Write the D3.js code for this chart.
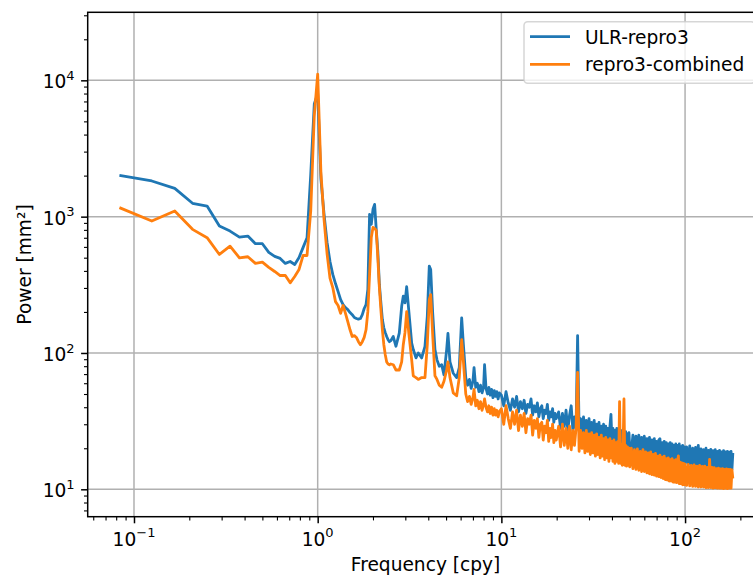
<!DOCTYPE html>
<html lang="en">
<head>
<meta charset="utf-8">
<title>Power spectra</title>
<script src="https://cdn.jsdelivr.net/npm/d3@7"></script>
<style>
 body { margin: 0; background: #fff; }
 svg { display: block; font-family: "DejaVu Sans", sans-serif; }
</style>
</head>
<body>
<div id="graph"></div>
<script>
// frequencies [cpy], low band (annual grid)
const freqLow = [0.0833, 0.125, 0.1667, 0.2083, 0.25, 0.2917, 0.3333, 0.375, 0.4167, 0.4583, 0.5, 0.5417,
  0.5833, 0.625, 0.6667, 0.7083, 0.75, 0.7917, 0.8333, 0.875, 0.9167, 0.9583, 1.0, 1.0417, 1.0833, 1.125,
  1.1667, 1.2083, 1.25, 1.2917, 1.3333, 1.375, 1.4167, 1.4583, 1.5, 1.5417, 1.5833, 1.625, 1.6667, 1.7083,
  1.75, 1.7917, 1.8333, 1.875, 1.9167, 1.9583, 2.0, 2.0417, 2.0833, 2.125, 2.1667, 2.2083, 2.25, 2.2917,
  2.3333, 2.375, 2.4167, 2.4583, 2.5];
const freqMid = [2.579, 2.668, 2.781, 2.866, 2.924, 2.987, 3.051, 3.141, 3.249, 3.314, 3.429, 3.529, 3.683,
  3.838, 3.951, 4.051, 4.123, 4.227, 4.35, 4.461, 4.592, 4.732, 4.87, 5.037, 5.12, 5.25, 5.472, 5.71, 5.899,
  6.08, 6.203, 6.4, 6.55, 6.7, 6.85, 7.0, 7.1, 7.25, 7.4, 7.55, 7.7, 7.85, 8.0, 8.1, 8.25, 8.4, 8.55, 8.7,
  8.85, 9.0, 9.15, 9.3, 9.45, 9.6, 9.75];
const freqHigh = [10.0, 10.3, 10.6, 10.9, 11.2, 11.5, 11.8, 12.1, 12.4, 12.7, 13.0, 13.3, 13.6, 13.9, 14.2,
  14.5, 14.8, 15.1, 15.4, 15.7, 16.0, 16.3, 16.6, 16.9, 17.2, 17.5, 17.8, 18.1, 18.4, 18.7, 19.0, 19.3, 19.6, 19.9,
  20.5, 21, 21.5, 22, 22.5, 23, 23.5, 24, 24.5, 25, 25.5, 26, 26.5, 27, 27.5, 28, 28.5, 29, 29.5, 30,
  30.5, 31, 31.5, 32, 32.5, 33, 33.5, 34, 34.5, 35, 35.5, 36, 36.5, 37, 37.5, 38, 38.5, 39, 39.5, 40,
  40.5, 41, 41.5, 42, 42.5, 43, 43.5, 44, 44.5, 45, 45.5, 46, 46.5, 47, 47.5, 48, 48.5, 49, 49.5, 50,
  51, 52, 53, 54, 55, 56, 57, 58, 59, 60, 61, 62, 63, 64, 65, 66, 67, 68, 69, 70, 71, 72, 73, 74, 75,
  76, 77, 78, 79, 80, 81, 82, 83, 84, 85, 86, 87, 88, 89, 90, 91, 92, 93, 94, 95, 96, 97, 98, 99, 100,
  102, 104, 106, 108, 110, 112, 114, 116, 118, 120, 122, 124, 126, 128, 130, 132, 134, 136, 138, 140,
  142, 144, 146, 148, 150, 152, 154, 156, 158, 160, 162, 164, 166, 168, 170, 172, 174, 176, 178, 180, 182];

// power [mm^2], ULR-repro3
const ulrLow = [2012, 1827, 1614, 1253, 1197, 853, 784, 708, 720, 633, 633, 547, 511, 494, 454, 469, 446, 502,
  595, 700, 2047, 6699, 8000, 1880, 1040, 647, 469, 377, 323, 282, 246, 226, 215, 208, 198, 191, 182, 179,
  177, 179, 191, 212, 226, 292, 1040, 877, 1132, 1231, 807, 556, 318, 234, 176, 153, 141, 132, 125, 121, 123];
const ulrMid = [132, 112, 140, 220, 261, 233, 306, 197, 118, 106, 92, 100, 92, 112, 186, 434, 410, 197, 106,
  89, 80, 82, 69, 106, 139, 86, 71, 66, 78, 181, 118,
  66, 58, 64, 55, 62, 78, 56, 60, 52, 58, 51, 56, 82, 55, 50, 56, 49, 54, 47, 53, 48, 52, 46, 51];
const ulrHigh = [49, 41, 52, 43, 38, 46, 40, 48, 37, 44, 39, 45, 36, 42, 40, 46, 35, 41, 37, 43, 34, 39, 41,
  33, 38, 36, 42, 32, 37, 34, 39, 31, 36, 33,
  37, 28, 36, 29, 38, 27, 35, 41, 27, 34, 28, 134, 27, 33, 25, 34, 26, 32, 24, 33, 25, 31, 24, 32, 23.5, 30,
  24, 31, 23, 29, 24, 30, 22, 29, 23, 28, 22, 29, 35.5, 22, 28, 21.5, 27, 22, 28, 21, 27, 22, 26.5, 20.5,
  27, 21, 26, 20, 26.5, 20.5, 25.5, 19.5, 26, 20,
  19, 25, 18.5, 24.5, 19, 25, 18, 24, 18.5, 24.5, 17.5, 23.5, 18, 24, 17.5, 23, 17, 23.5, 17.5, 22.5, 16.5,
  23, 23.5, 16.5, 22, 16.5, 22.5, 16, 22, 16.5, 21.5, 16, 22, 15.8, 21.5, 16, 21, 15.5, 21.5, 15.8, 21, 15.5,
  21.5, 15.3, 20.5, 15.5, 21, 15, 20.5, 15.5,
  20.5, 15.2, 20.8, 15, 20, 15.2, 20.3, 14.8, 21, 15, 19.8, 14.8, 19.5, 14.7, 20, 14.5, 19.3, 14.6, 19.6,
  14.5, 19.2, 14.3, 19.5, 14.4, 19, 14.2, 19.3, 14.2, 18.8, 14.3, 19.2, 14, 18.8, 14.1, 19, 13.9, 18.7, 14, 19, 14, 18.5];

// power [mm^2], repro3-combined
const combLow = [1165, 928, 1100, 807, 701, 528, 608, 499, 508, 454, 464, 424, 396, 370, 370, 327, 364, 410,
  519, 519, 1100, 5500, 11120, 2100, 950, 534, 354, 302, 238, 223, 195, 223, 195, 170, 148, 132, 134, 130,
  121, 115, 121, 130, 148, 201, 377, 704, 834, 820, 793, 502, 302, 208, 148, 115, 97, 86, 83, 82, 83];
const combMid = [82, 75, 75, 86, 115, 141, 201, 136, 89, 68, 66, 64, 66, 66, 115, 246, 268, 136, 68, 64, 58,
  56, 62, 75, 86, 66, 51, 48.5, 66, 125, 89,
  50, 44, 48, 42, 47, 54, 41, 45, 39, 44, 38, 42, 46, 40, 37, 41, 36, 40, 35, 39, 35, 38, 34, 37];
const combHigh = [39, 30, 41, 33, 28, 37, 30, 38, 27, 35, 29, 36, 26, 33, 30, 35, 25, 32, 28, 33, 24, 30, 31,
  23, 29, 26, 32, 22.5, 28, 24, 30, 22, 27, 23,
  29, 20.5, 30, 21, 28, 20, 29, 19.5, 27, 21, 28, 72, 19, 27, 20, 26, 18.5, 27, 19, 25.5, 18, 26, 18.5, 25,
  17.5, 25.5, 18, 24, 17, 25, 17.5, 23.5, 16.5, 24, 17, 23, 16, 23.5, 17, 22.5, 16, 23, 15.5, 22, 16, 22.5,
  15.5, 44, 15.5, 21.5, 15, 21, 46, 15, 21, 14.8, 20.5, 15, 20, 14.6,
  20, 14.2, 19.5, 14, 19.8, 13.8, 19, 13.5, 19.5, 13.5, 18.8, 13.2, 18.5, 13, 18.8, 12.8, 18, 12.7, 18.3,
  12.5, 17.5, 12.4, 17.8, 12.2, 17.2, 12, 17.5, 11.8, 16.8, 11.7, 17, 11.5, 16.5, 11.5, 16.8, 11.3, 16.2,
  11.3, 16.5, 11.2, 16, 17.6, 11, 15.8, 11, 15.6, 10.8, 15.5, 10.8, 15.3,
  10.7, 15.2, 10.6, 15, 10.5, 15.1, 10.5, 14.8, 10.4, 15, 10.4, 14.7, 10.4, 14.8, 10.3, 14.5, 10.3, 16.6,
  10.3, 14.5, 10.2, 14.4, 10.3, 14.2, 10.2, 14.3, 10.2, 14.1, 10.2, 14.2, 10.1, 14, 10.2, 14.1, 10.1, 14,
  10.2, 14, 10.2, 13.9, 12];

const seriesNames = ["ULR-repro3", "repro3-combined"];
const seriesColors = ["#1f77b4", "#ff7f0e"];
const xTickExp = [-1, 0, 1, 2];
const yTickExp = [1, 2, 3, 4];

const freq = freqLow.concat(freqMid, freqHigh);
const series = [ulrLow.concat(ulrMid, ulrHigh), combLow.concat(combMid, combHigh)];

//Display specifications
const W = 753, H = 576;
const margin = {top: 12.3, left: 87.7};
const width = 675.8, height = 504.4;
const fs = 18.6;

const x = d3.scaleLog().domain([Math.pow(10, -1.252), Math.pow(10, 2.427)]).range([0, width]);
const y = d3.scaleLog().domain([Math.pow(10, 0.799), Math.pow(10, 4.499)]).range([height, 0]);

function minors(scale, lo, hi) {
    const out = [];
    const [d0, d1] = scale.domain();
    for (let e = lo; e <= hi; e++)
        for (let m = 2; m <= 9; m++) {
            const v = m * Math.pow(10, e);
            if (v >= d0 && v <= d1) out.push(v);
        }
    return out;
}

const svg = d3.select("#graph").append("svg")
    .attr("width", W).attr("height", H);

const g = svg.append("g")
    .attr("transform", "translate(" + margin.left + "," + margin.top + ")");

g.append("defs").append("clipPath").attr("id", "clip")
    .append("rect").attr("width", width).attr("height", height);

//Grid
const grid = g.append("g").attr("stroke", "#b0b0b0").attr("stroke-width", 1.5);
xTickExp.forEach(e => {
    grid.append("line").attr("x1", x(Math.pow(10, e))).attr("x2", x(Math.pow(10, e)))
        .attr("y1", 0).attr("y2", height);
});
yTickExp.forEach(e => {
    grid.append("line").attr("y1", y(Math.pow(10, e))).attr("y2", y(Math.pow(10, e)))
        .attr("x1", 0).attr("x2", width);
});

//Lines
const line = d3.line()
    .x((d, i) => x(freq[i]))
    .y(d => y(d));

g.append("g").attr("clip-path", "url(#clip)")
    .selectAll("path")
    .data(series)
    .enter()
    .append("path")
    .attr("fill", "none")
    .attr("stroke", (d, i) => seriesColors[i])
    .attr("stroke-width", 2.8)
    .attr("stroke-linejoin", "round")
    .attr("d", d => line(d));

//Axes
function styleAxis(sel) {
    sel.select(".domain").remove();
    sel.selectAll(".tick line").attr("stroke", "#000");
}
const xMaj = xTickExp.map(e => Math.pow(10, e));
const yMaj = yTickExp.map(e => Math.pow(10, e));

g.append("g").attr("transform", "translate(0," + height + ")")
    .call(d3.axisBottom(x).tickValues(xMaj).tickSize(6.6).tickFormat(""))
    .call(styleAxis).selectAll(".tick line").attr("stroke-width", 1.5);
g.append("g").attr("transform", "translate(0," + height + ")")
    .call(d3.axisBottom(x).tickValues(minors(x, -2, 2)).tickSize(3.7).tickFormat(""))
    .call(styleAxis).selectAll(".tick line").attr("stroke-width", 1.1);
g.append("g")
    .call(d3.axisLeft(y).tickValues(yMaj).tickSize(6.6).tickFormat(""))
    .call(styleAxis).selectAll(".tick line").attr("stroke-width", 1.5);
g.append("g")
    .call(d3.axisLeft(y).tickValues(minors(y, 0, 4)).tickSize(3.7).tickFormat(""))
    .call(styleAxis).selectAll(".tick line").attr("stroke-width", 1.1);

function powLabel(sel, e) {
    sel.append("tspan").text("10");
    sel.append("tspan").attr("font-size", fs * 0.7).attr("dy", -fs * 0.45)
        .text(e < 0 ? "\u2212" + Math.abs(e) : String(e));
}
xTickExp.forEach(e => {
    g.append("text").attr("x", x(Math.pow(10, e))).attr("y", height + 29)
        .attr("text-anchor", "middle").attr("font-size", fs)
        .call(powLabel, e);
});
yTickExp.forEach(e => {
    g.append("text").attr("x", -13.1).attr("y", y(Math.pow(10, e)) + 8)
        .attr("text-anchor", "end").attr("font-size", fs)
        .call(powLabel, e);
});

//Spines
g.append("rect").attr("width", width).attr("height", height)
    .attr("fill", "none").attr("stroke", "#000").attr("stroke-width", 1.5);

//Axis labels
svg.append("text").attr("x", margin.left + width / 2).attr("y", 571)
    .attr("text-anchor", "middle").attr("font-size", fs)
    .text("Frequency [cpy]");
svg.append("text").attr("transform", "translate(31," + (margin.top + height / 2) + ") rotate(-90)")
    .attr("text-anchor", "middle").attr("font-size", fs)
    .text("Power [mm\u00b2]");

//Legend
const leg = svg.append("g");
leg.append("rect").attr("x", 524).attr("y", 21.7).attr("width", 230.8).attr("height", 61.6)
    .attr("rx", 3.7).attr("fill", "rgba(255,255,255,0.8)")
    .attr("stroke", "rgba(204,204,204,0.8)").attr("stroke-width", 1.5);
seriesNames.forEach((name, i) => {
    const ly = 36.7 + i * 27.6;
    leg.append("line").attr("x1", 530).attr("x2", 570).attr("y1", ly).attr("y2", ly)
        .attr("stroke", seriesColors[i]).attr("stroke-width", 2.8);
    leg.append("text").attr("x", 585).attr("y", ly + 6.8).attr("font-size", fs).text(name);
});
</script>
</body>
</html>
